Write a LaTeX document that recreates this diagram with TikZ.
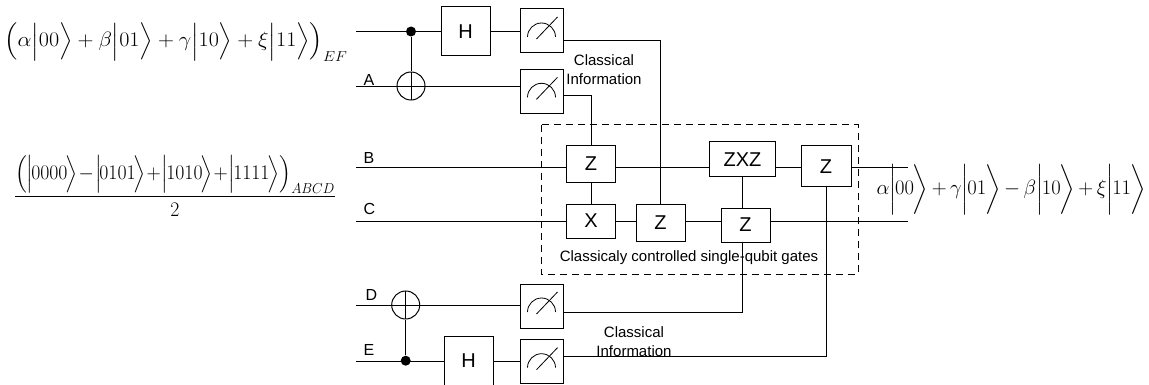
\documentclass[tikz,border=0pt]{standalone}
\usepackage{amsmath}
\usepackage{fontspec}
\setmainfont{Liberation Sans}
\usetikzlibrary{backgrounds}

\newcommand{\kt}[1]{\Bigl|#1\Bigr\rangle}
\newcommand{\ktn}[1]{\Bigl|\mkern-2mu#1\mkern-2mu\Bigr\rangle}
\newcommand{\ktt}[1]{\biggl|\mkern-1mu#1\mkern-1mu\biggr\rangle}

\begin{document}
\begin{tikzpicture}[x=1pt,y=-1pt,line width=1pt,
  gate/.style={draw, fill=white, inner sep=0pt, minimum width=49pt,
    minimum height=37pt, font=\fontsize{20}{24}\selectfont},
  meter/.style={draw, fill=white, inner sep=0pt, minimum width=43pt,
    minimum height=44pt, path picture={
      \draw[line width=0.8pt] ([shift={(14pt,-6pt)}]path picture bounding box.center)
        arc[start angle=0, end angle=180, radius=14pt];
      \draw[line width=0.8pt] ([shift={(-5pt,-8pt)}]path picture bounding box.center)
        -- ([shift={(16pt,14pt)}]path picture bounding box.center);}},
  targ/.style={circle, draw, inner sep=0pt, minimum size=28pt, path picture={
      \draw (path picture bounding box.north) -- (path picture bounding box.south);}},
  ctrl/.style={circle, fill, inner sep=0pt, minimum size=10pt},
  lbl/.style={anchor=base west, inner sep=0pt, font=\fontsize{16}{19}\selectfont},
  note/.style={align=center, inner sep=0pt, font=\fontsize{15}{19}\selectfont},
  eq/.style={inner sep=0pt, font=\fontsize{20}{24}\selectfont}]

  \useasboundingbox (0,0) rectangle (1149,385);

  % vodice (y)
  \def\yF{31.5};
  \def\yA{86};
  \def\yB{167.5};
  \def\yC{221.5};
  \def\yD{305};
  \def\yE{360.7};
  \def\xin{356};
  \def\xout{908};

  \coordinate (inF) at (\xin,\yF);
  \coordinate (inA) at (\xin,\yA);
  \coordinate (inB) at (\xin,\yB);
  \coordinate (inC) at (\xin,\yC);
  \coordinate (inD) at (\xin,\yD);
  \coordinate (inE) at (\xin,\yE);
  \coordinate (outB) at (\xout,\yB);
  \coordinate (outC) at (\xout,\yC);

  % EF + A
  \node[ctrl] (cF) at (411,\yF) {};
  \node[targ] (tA) at (411,\yA) {};
  \node[gate, minimum height=49pt] (H1) at (465.5,\yF) {H};
  \node[meter] (M1) at (541.5,31) {};
  \node[meter] (M2) at (541.5,91.3) {};

  % D + E
  \node[targ] (tD) at (405.7,\yD) {};
  \node[ctrl] (cE) at (405.7,\yE) {};
  \node[gate, minimum height=49pt] (H2) at (468.5,\yE) {H};
  \node[meter] (MD) at (541.5,306) {};
  \node[meter] (ME) at (541.5,361.7) {};

  % klasicky rizene hradla
  \node[gate] (Z1) at (591,164) {Z};
  \node[gate, minimum height=34pt] (X1) at (591,221) {X};
  \node[gate] (Z2) at (660.5,222.5) {Z};
  \node[gate, minimum width=66pt, minimum height=35pt] (ZXZ) at (742.5,159.2) {ZXZ};
  \node[gate, minimum height=34pt] (Z3) at (745.5,225) {Z};
  \node[gate, minimum width=50pt, minimum height=41pt] (Z4) at (826,166.2) {Z};

  \begin{scope}[on background layer]
    \draw (inF) -- (inF -| M1);
    \draw (inA) -- (inA -| M2);
    \draw (inB) -- (outB);
    \draw (inC) -- (outC);
    \draw (inD) -- (inD -| MD);
    \draw (inE) -- (inE -| ME);
  \end{scope}

  \draw (cF) -- (tA);
  \draw (cE) -- (tD);

  % klasicka informace
  \draw ([yshift=-9.5pt]M1.east) -| (Z2.north);
  \draw ([yshift=-4pt]M2.east) -| (Z1.north);
  \draw (Z1) -- (X1);
  \draw (ZXZ.south) -- (ZXZ.south |- Z3.north);
  \draw (ZXZ.south |- Z3.south) |- ([yshift=-6.7pt]MD.east);
  \draw (Z4.south) |- ([yshift=5pt]ME.east);

  \draw[dash pattern=on 7pt off 5pt] (541,125) rectangle (858,274);

  \node[lbl] (lA) at (363,85.5) {A};
  \node[lbl] (lB) at (363,163.5) {B};
  \node[lbl] (lC) at (363,214.5) {C};
  \node[lbl] (lD) at (365,300.5) {D};
  \node[lbl] (lE) at (363,355) {E};

  \node[note] (ci1) at (604,70) {Classical\\Information};
  \node[note] (ci2) at (634,342) {Classical\\Information};
  \node[note] (cc) at (689,258) {Classicaly controlled single-qubit gates};

  \node[eq, anchor=base west] (psiEF) at (4,47)
    {\resizebox{343pt}{\height}{$\Bigl(\alpha\kt{00}+\beta\kt{01}+\gamma\kt{10}+\xi\kt{11}\Bigr)_{EF}$}};
  \node[eq, anchor=base, font=\fontsize{21}{24}\selectfont] (psiABCD) at (175,202)
    {\resizebox{322pt}{\height}{$\medmuskip=1mu
      \dfrac{\Bigl(\ktn{0000}-\ktn{0101}+\ktn{1010}+\ktn{1111}\Bigr)_{ABCD}}{2}$}};
  \node[eq, anchor=base west] (psiOut) at (876,195)
    {\resizebox{269pt}{\height}{$\medmuskip=3mu
      \alpha\ktt{00}+\gamma\ktt{01}-\beta\ktt{10}+\xi\ktt{11}$}};

\end{tikzpicture}
\end{document}
